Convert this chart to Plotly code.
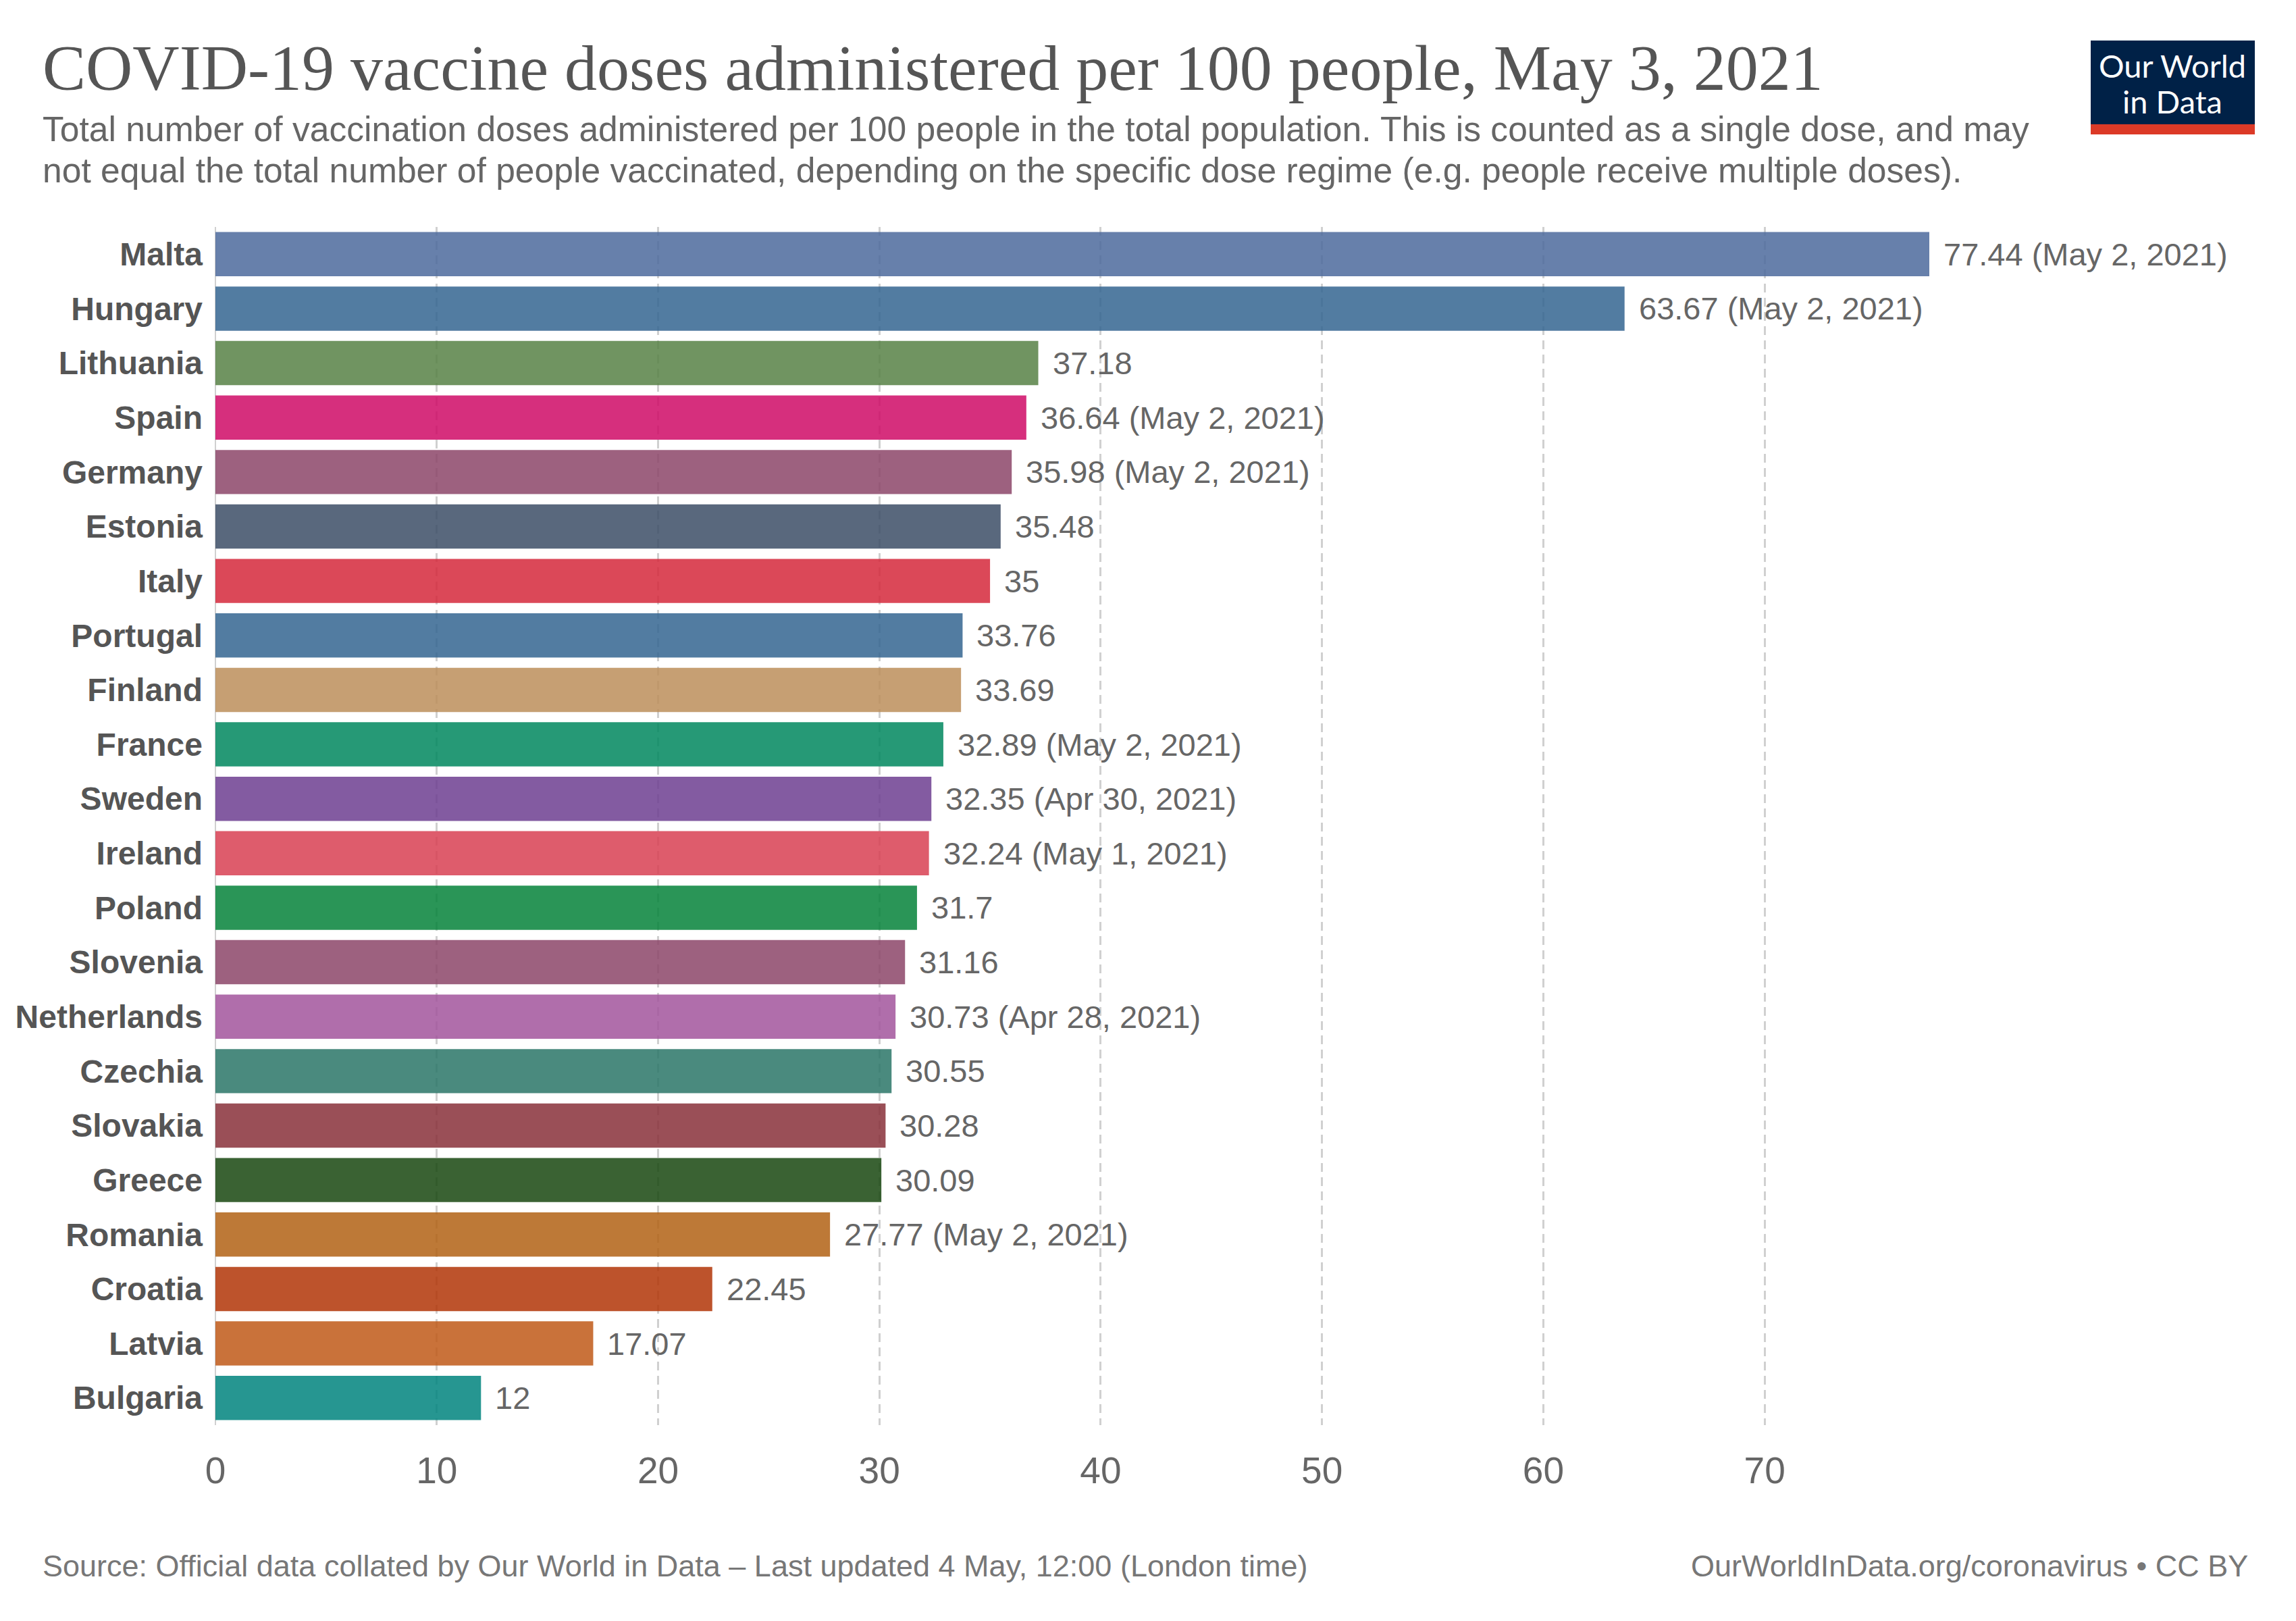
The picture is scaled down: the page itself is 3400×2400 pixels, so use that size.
import plotly.graph_objects as go

# ---------------- data ----------------
countries = ["Malta", "Hungary", "Lithuania", "Spain", "Germany", "Estonia", "Italy",
             "Portugal", "Finland", "France", "Sweden", "Ireland", "Poland", "Slovenia",
             "Netherlands", "Czechia", "Slovakia", "Greece", "Romania", "Croatia",
             "Latvia", "Bulgaria"]
values = [77.44, 63.67, 37.18, 36.64, 35.98, 35.48, 35, 33.76, 33.69, 32.89, 32.35,
          32.24, 31.7, 31.16, 30.73, 30.55, 30.28, 30.09, 27.77, 22.45, 17.07, 12]
date_notes = ["May 2, 2021", "May 2, 2021", "", "May 2, 2021", "May 2, 2021", "", "",
              "", "", "May 2, 2021", "Apr 30, 2021", "May 1, 2021", "", "",
              "Apr 28, 2021", "", "", "", "May 2, 2021", "", "", ""]
x_ticks = [0, 10, 20, 30, 40, 50, 60, 70]

title_text = "COVID-19 vaccine doses administered per 100 people, May 3, 2021"
subtitle_lines = [
    "Total number of vaccination doses administered per 100 people in the total population. "
    "This is counted as a single dose, and may",
    "not equal the total number of people vaccinated, depending on the specific dose regime "
    "(e.g. people receive multiple doses).",
]
source_text = "Source: Official data collated by Our World in Data – Last updated 4 May, 12:00 (London time)"
credit_text = "OurWorldInData.org/coronavirus • CC BY"

# ---------------- styles ----------------
bar_colors = ["#4C6A9C", "#346591", "#578145", "#CF0A66", "#8C4569", "#3C4E66", "#D5283B",
              "#346591", "#BC8E5A", "#00875E", "#6D3E91", "#D83F52", "#05823A", "#8C4569",
              "#A2559C", "#2A7567", "#883039", "#18470F", "#B16214", "#B13507",
              "#C05917", "#00847E"]

OFF = 8                      # page body margin compensation
W, H = 3400 - OFF, 2400 - OFF
L, R, T, B = 319 - OFF, 2857 - OFF, 336 - OFF, 2110 - OFF   # plot area in pixels
PW, PH = R - L, B - T


def px(x):
    return (x - OFF - L) / PW


def py(y):
    return (B - (y - OFF)) / PH


labels = [f"{v:g}" + (f" ({d})" if d else "") for v, d in zip(values, date_notes)]

fig = go.Figure()
fig.add_trace(go.Bar(
    x=values, y=countries, orientation="h",
    marker=dict(color=bar_colors, opacity=0.85, line=dict(width=0)),
    hoverinfo="skip",
))

annotations = []
for c, v, lab in zip(countries, values, labels):
    annotations.append(dict(
        x=v, y=c, xref="x", yref="y", text=lab, showarrow=False,
        xanchor="left", yanchor="middle", xshift=19,
        font=dict(family="Liberation Sans", size=47, color="#666666"),
    ))

# title / subtitle
annotations.append(dict(
    x=px(61), y=py(100), xref="paper", yref="paper", text=title_text, showarrow=False,
    xanchor="left", yanchor="middle",
    font=dict(family="Liberation Serif", size=96, color="#555555"),
))
for line, yy in zip(subtitle_lines, [191, 252]):
    annotations.append(dict(
        x=px(61), y=py(yy), xref="paper", yref="paper", text=line, showarrow=False,
        xanchor="left", yanchor="middle", align="left",
        font=dict(family="Liberation Sans", size=51.6, color="#666666"),
    ))
# footer
annotations.append(dict(
    x=px(61), y=py(2318), xref="paper", yref="paper", text=source_text, showarrow=False,
    xanchor="left", yanchor="middle",
    font=dict(family="Liberation Sans", size=45, color="#777777"),
))
annotations.append(dict(
    x=px(3331), y=py(2318), xref="paper", yref="paper", text=credit_text, showarrow=False,
    xanchor="right", yanchor="middle",
    font=dict(family="Liberation Sans", size=45, color="#777777"),
))
# logo text
annotations.append(dict(
    x=px(3217), y=py(97), xref="paper", yref="paper", text="Our World", showarrow=False,
    xanchor="center", yanchor="middle",
    font=dict(family="Lato", size=47, color="#ffffff"),
))
annotations.append(dict(
    x=px(3217), y=py(150), xref="paper", yref="paper", text="in Data", showarrow=False,
    xanchor="center", yanchor="middle",
    font=dict(family="Lato", size=47, color="#ffffff"),
))

shapes = [
    dict(type="rect", xref="paper", yref="paper", x0=px(3096), x1=px(3339), y0=py(184), y1=py(60),
         fillcolor="#002147", line=dict(width=0), layer="above"),
    dict(type="rect", xref="paper", yref="paper", x0=px(3096), x1=px(3339), y0=py(199), y1=py(184),
         fillcolor="#DC3A27", line=dict(width=0), layer="above"),
]

fig.update_layout(
    width=W, height=H,
    margin=dict(l=L, r=W - R, t=T, b=H - B, pad=0),
    paper_bgcolor="white", plot_bgcolor="white",
    showlegend=False,
    bargap=0.188,
    annotations=annotations,
    shapes=shapes,
    xaxis=dict(
        range=[0, max(values)], tickvals=x_ticks, ticktext=[str(t) for t in x_ticks],
        showgrid=True, gridcolor="#d0d0d0", gridwidth=3, griddash="13px,8px",
        zeroline=True, zerolinecolor="#d0d0d0", zerolinewidth=2,
        showline=False, ticks="", ticklabelstandoff=30,
        tickfont=dict(family="Liberation Sans", size=55, color="#666666"),
        fixedrange=True,
    ),
    yaxis=dict(
        categoryorder="array", categoryarray=countries, autorange="reversed",
        showgrid=False, zeroline=False, showline=False, ticks="",
        ticklabelstandoff=18,
        tickfont=dict(family="Liberation Sans", size=48, color="#555555", weight="bold"),
        fixedrange=True,
    ),
)

fig.write_html("out.html")
